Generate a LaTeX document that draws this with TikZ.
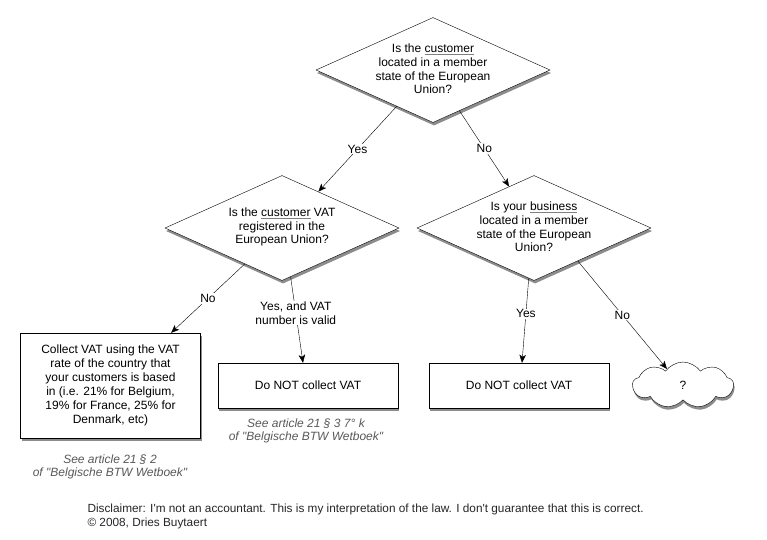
\documentclass[tikz,border=0pt]{standalone}
\usepackage{fontspec}
\setmainfont{Liberation Sans}
\usetikzlibrary{shapes.geometric,shapes.symbols,shadows,arrows.meta}
\newcommand\undl[1]{{\color{gray}\underline{\color{black}#1}}}
\newcommand\sq{\textquotesingle}
\newcommand\dq{\textquotedbl}
\tikzset{
  shade/.style={drop shadow={shadow xshift=1pt,shadow yshift=-3pt,opacity=.45,fill=black}},
  decision/.style={diamond,draw,fill=white,shade,minimum width=234pt,minimum height=105pt,inner sep=0pt,aspect=2.2},
  qtext/.style={align=center,font=\fontsize{12}{13.7}\selectfont},
  action/.style={rectangle,draw,fill=white,shade,minimum width=180pt,minimum height=45pt,align=center,font=\fontsize{12}{14}\selectfont},
  choice/.style={fill=white,inner sep=1pt,align=center,font=\fontsize{12}{14}\selectfont},
  note/.style={align=center,text=black!65,font=\fontsize{12}{13}\selectfont\itshape},
  flow/.style={-{Stealth[length=8pt,width=6.5pt,inset=2pt]}}
}
\begin{document}
\begin{tikzpicture}[x=1pt,y=-1pt]
\useasboundingbox[fill=white](0,0)rectangle(767,539);
% questions
\node[decision](q1)at(433,70){};
\node[qtext](q1text)at(433,69){Is the \undl{customer}\\located in a member\\state of the European\\Union?};
\node[decision](q2)at(282,228){};
\node[qtext](q2text)at(282,227){Is the \undl{customer} VAT\\registered in the\\European Union?};
\node[decision](q3)at(534,228){};
\node[qtext](q3text)at(534,227){Is your \undl{business}\\located in a member\\state of the European\\Union?};
% answers
\node[action,minimum height=105pt](collect)at(110.5,385.5){Collect VAT using the VAT\\rate of the country that\\your customers is based\\in (i.e. 21\% for Belgium,\\19\% for France, 25\% for\\Denmark, etc)};
\node[action](nocollectA)at(308,385.5){Do NOT collect VAT};
\node[action](nocollectB)at(519,385.5){Do NOT collect VAT};
\node[cloud,draw,fill=white,shade,cloud puffs=9,cloud puff arc=110,aspect=2.2,minimum width=101pt,minimum height=46pt,
  font=\fontsize{12}{14}\selectfont](unknown)at(683,385){?};
% arrows
\draw[flow](q1.225)--(q2.45)node[choice,midway]{Yes};
\draw[flow](q1.-57)--(q3.121)node[choice,midway]{No};
\draw[flow](q2.224)--(collect.41)node[choice,midway]{No};
\draw[flow](q2.-80)--([xshift=-5pt]nocollectA.north)node[choice,pos=.42]{Yes, and VAT\\number is valid};
\draw[flow](q3.-96)--([xshift=3pt]nocollectB.north)node[choice,pos=.42]{Yes};
\draw[flow](q3.-37)--(unknown.135)node[choice,midway]{No};
% references
\node[note](lawA)at(110,466.5){See article 21 § 2\\of \dq Belgische BTW Wetboek\dq};
\node[note](lawB)at(306,430.5){See article 21 § 3 7° k\\of \dq Belgische BTW Wetboek\dq};
\node[anchor=west,align=left,font=\fontsize{11.8}{14}\selectfont,text=black!85](disclaimer)at(84,516){Disclaimer: I\sq m not an accountant. This is my interpretation of the law. I don\sq t guarantee that this is correct.\\© 2008, Dries Buytaert};
\end{tikzpicture}
\end{document}
